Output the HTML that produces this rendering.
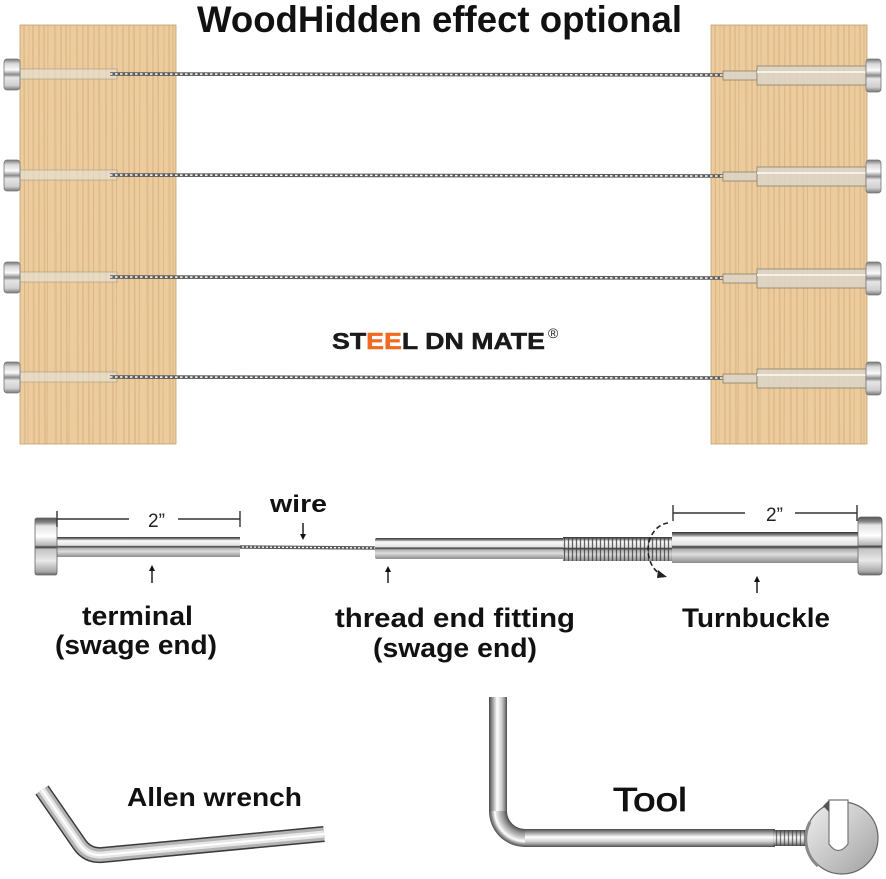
<!DOCTYPE html>
<html>
<head>
<meta charset="utf-8">
<style>
html,body{margin:0;padding:0;background:#fff;}
svg{display:block;}
text{font-family:"Liberation Sans",Arial,sans-serif;}
</style>
</head>
<body>
<svg xmlns="http://www.w3.org/2000/svg" width="886" height="879" viewBox="0 0 886 879">
<defs>
  <linearGradient id="headV" x1="0" y1="0" x2="0" y2="1">
    <stop offset="0" stop-color="#777"/>
    <stop offset="0.15" stop-color="#d8d8d8"/>
    <stop offset="0.35" stop-color="#fafafa"/>
    <stop offset="0.5" stop-color="#8a8a8a"/>
    <stop offset="0.6" stop-color="#e6e6e6"/>
    <stop offset="0.85" stop-color="#cfcfcf"/>
    <stop offset="1" stop-color="#777"/>
  </linearGradient>
  <linearGradient id="headG" x1="0" y1="0" x2="0" y2="1">
    <stop offset="0" stop-color="#555"/>
    <stop offset="0.08" stop-color="#888"/>
    <stop offset="0.14" stop-color="#e4e4e4"/>
    <stop offset="0.32" stop-color="#ffffff"/>
    <stop offset="0.48" stop-color="#b5b5b5"/>
    <stop offset="0.51" stop-color="#3a3a3a"/>
    <stop offset="0.55" stop-color="#c4c4c4"/>
    <stop offset="0.75" stop-color="#e9e9e9"/>
    <stop offset="0.94" stop-color="#a8a8a8"/>
    <stop offset="1" stop-color="#666"/>
  </linearGradient>
  <linearGradient id="tubeG" x1="0" y1="0" x2="0" y2="1">
    <stop offset="0" stop-color="#333"/>
    <stop offset="0.1" stop-color="#8a8a8a"/>
    <stop offset="0.18" stop-color="#fafafa"/>
    <stop offset="0.42" stop-color="#e2e2e2"/>
    <stop offset="0.48" stop-color="#3a3a3a"/>
    <stop offset="0.56" stop-color="#b0b0b0"/>
    <stop offset="0.72" stop-color="#dedede"/>
    <stop offset="1" stop-color="#8c8c8c"/>
  </linearGradient>
  <linearGradient id="legV" x1="0" y1="0" x2="1" y2="0">
    <stop offset="0" stop-color="#4a4a4a"/>
    <stop offset="0.2" stop-color="#9a9a9a"/>
    <stop offset="0.45" stop-color="#ffffff"/>
    <stop offset="0.7" stop-color="#d0d0d0"/>
    <stop offset="0.88" stop-color="#8a8a8a"/>
    <stop offset="1" stop-color="#4a4a4a"/>
  </linearGradient>
  <linearGradient id="legH" x1="0" y1="0" x2="0" y2="1">
    <stop offset="0" stop-color="#4a4a4a"/>
    <stop offset="0.2" stop-color="#9a9a9a"/>
    <stop offset="0.45" stop-color="#ffffff"/>
    <stop offset="0.7" stop-color="#d0d0d0"/>
    <stop offset="0.88" stop-color="#8a8a8a"/>
    <stop offset="1" stop-color="#4a4a4a"/>
  </linearGradient>
  <radialGradient id="bendG" gradientUnits="userSpaceOnUse" cx="525" cy="811" r="36">
    <stop offset="0.5" stop-color="#4a4a4a"/>
    <stop offset="0.6" stop-color="#8a8a8a"/>
    <stop offset="0.75" stop-color="#d0d0d0"/>
    <stop offset="0.84" stop-color="#ffffff"/>
    <stop offset="0.92" stop-color="#9a9a9a"/>
    <stop offset="1" stop-color="#4a4a4a"/>
  </radialGradient>
  <linearGradient id="diskG" x1="0" y1="0" x2="1" y2="1">
    <stop offset="0" stop-color="#f0f0f0"/>
    <stop offset="0.5" stop-color="#c9c9c9"/>
    <stop offset="1" stop-color="#a0a0a0"/>
  </linearGradient>
  <pattern id="thr" width="4" height="40" patternUnits="userSpaceOnUse" x="563" y="0">
    <line x1="1.5" y1="0" x2="1.5" y2="40" stroke="#3f3f3f" stroke-width="1.3"/>
  </pattern>
  <g id="grainLines" stroke="#a97a44" fill="none">
    <path d="M4 0 L5 419" stroke-width="1.2" stroke-opacity="0.25"/>
    <path d="M9 0 L8 419" stroke-width="0.8" stroke-opacity="0.2"/>
    <path d="M13 0 L14 419" stroke-width="2" stroke-opacity="0.15"/>
    <path d="M19 0 L19 419" stroke-width="1" stroke-opacity="0.3"/>
    <path d="M24 0 L25 419" stroke-width="1.6" stroke-opacity="0.18"/>
    <path d="M28 0 L27 419" stroke-width="0.8" stroke-opacity="0.28"/>
    <path d="M35 0 L36 419" stroke-width="2.4" stroke-opacity="0.14"/>
    <path d="M41 0 L41 419" stroke-width="1" stroke-opacity="0.3"/>
    <path d="M46 0 L47 419" stroke-width="1.4" stroke-opacity="0.2"/>
    <path d="M50 0 L49 419" stroke-width="0.8" stroke-opacity="0.25"/>
    <path d="M57 0 L58 419" stroke-width="2" stroke-opacity="0.16"/>
    <path d="M63 0 L63 419" stroke-width="1" stroke-opacity="0.3"/>
    <path d="M68 0 L69 419" stroke-width="1.6" stroke-opacity="0.2"/>
    <path d="M74 0 L73 419" stroke-width="0.9" stroke-opacity="0.28"/>
    <path d="M79 0 L80 419" stroke-width="2.2" stroke-opacity="0.15"/>
    <path d="M86 0 L86 419" stroke-width="1" stroke-opacity="0.3"/>
    <path d="M92 0 L93 419" stroke-width="1.5" stroke-opacity="0.2"/>
    <path d="M97 0 L96 419" stroke-width="0.8" stroke-opacity="0.26"/>
    <path d="M103 0 L104 419" stroke-width="2" stroke-opacity="0.15"/>
    <path d="M109 0 L109 419" stroke-width="1" stroke-opacity="0.3"/>
    <path d="M114 0 L115 419" stroke-width="1.6" stroke-opacity="0.2"/>
    <path d="M120 0 L119 419" stroke-width="0.9" stroke-opacity="0.26"/>
    <path d="M127 0 L128 419" stroke-width="2.2" stroke-opacity="0.16"/>
    <path d="M133 0 L133 419" stroke-width="1" stroke-opacity="0.3"/>
    <path d="M138 0 L139 419" stroke-width="1.5" stroke-opacity="0.2"/>
    <path d="M144 0 L143 419" stroke-width="0.8" stroke-opacity="0.26"/>
    <path d="M149 0 L150 419" stroke-width="2" stroke-opacity="0.16"/>
    <path d="M153 0 L153 419" stroke-width="1" stroke-opacity="0.28"/>
  </g>
</defs>

<rect width="886" height="879" fill="#fff"/>

<!-- Title -->
<text x="197" y="32" font-size="37" font-weight="bold" fill="#111" textLength="485" lengthAdjust="spacingAndGlyphs">WoodHidden effect optional</text>

<!-- Posts -->
<rect x="20" y="25" width="156" height="419" fill="#eccb9c"/>
<use href="#grainLines" transform="translate(20,25)"/>
<rect x="20" y="25" width="156" height="419" fill="none" stroke="#c29e6c" stroke-width="0.8"/>
<rect x="711" y="25" width="156" height="419" fill="#eccb9c"/>
<use href="#grainLines" transform="translate(711,25)"/>
<rect x="711" y="25" width="156" height="419" fill="none" stroke="#c29e6c" stroke-width="0.8"/>

<!-- Rows -->
<g id="rows">
  <g>
    <rect x="20" y="69" width="97" height="10" fill="#e8e4dc" fill-opacity="0.6" stroke="#8f8a80" stroke-opacity="0.6" stroke-width="0.8"/>
    <line x1="110" y1="74" x2="723" y2="75" stroke="#5c5c5c" stroke-width="3.6"/>
    <line x1="110" y1="74" x2="723" y2="75" stroke="#fff" stroke-width="1.5" stroke-dasharray="2.5 2.5"/>
    <rect x="4" y="59" width="16" height="31" rx="3" fill="url(#headV)" stroke="#777" stroke-width="0.8"/>
    <rect x="723" y="71" width="34" height="9" fill="#ddd5c8" fill-opacity="0.85" stroke="#8a8070" stroke-width="0.8"/>
    <rect x="757" y="66" width="109" height="19" fill="#ddd5c8" fill-opacity="0.85" stroke="#8a8070" stroke-width="0.8"/>
    <line x1="757" y1="72" x2="866" y2="72" stroke="#f4f0ea" stroke-width="2"/>
    <rect x="866" y="59" width="15" height="33" rx="3" fill="url(#headV)" stroke="#777" stroke-width="0.8"/>
  </g>
  <g transform="translate(0,101)">
    <rect x="20" y="69" width="97" height="10" fill="#e8e4dc" fill-opacity="0.6" stroke="#8f8a80" stroke-opacity="0.6" stroke-width="0.8"/>
    <line x1="110" y1="74" x2="723" y2="75" stroke="#5c5c5c" stroke-width="3.6"/>
    <line x1="110" y1="74" x2="723" y2="75" stroke="#fff" stroke-width="1.5" stroke-dasharray="2.5 2.5"/>
    <rect x="4" y="59" width="16" height="31" rx="3" fill="url(#headV)" stroke="#777" stroke-width="0.8"/>
    <rect x="723" y="71" width="34" height="9" fill="#ddd5c8" fill-opacity="0.85" stroke="#8a8070" stroke-width="0.8"/>
    <rect x="757" y="66" width="109" height="19" fill="#ddd5c8" fill-opacity="0.85" stroke="#8a8070" stroke-width="0.8"/>
    <line x1="757" y1="72" x2="866" y2="72" stroke="#f4f0ea" stroke-width="2"/>
    <rect x="866" y="59" width="15" height="33" rx="3" fill="url(#headV)" stroke="#777" stroke-width="0.8"/>
  </g>
  <g transform="translate(0,203)">
    <rect x="20" y="69" width="97" height="10" fill="#e8e4dc" fill-opacity="0.6" stroke="#8f8a80" stroke-opacity="0.6" stroke-width="0.8"/>
    <line x1="110" y1="74" x2="723" y2="75" stroke="#5c5c5c" stroke-width="3.6"/>
    <line x1="110" y1="74" x2="723" y2="75" stroke="#fff" stroke-width="1.5" stroke-dasharray="2.5 2.5"/>
    <rect x="4" y="59" width="16" height="31" rx="3" fill="url(#headV)" stroke="#777" stroke-width="0.8"/>
    <rect x="723" y="71" width="34" height="9" fill="#ddd5c8" fill-opacity="0.85" stroke="#8a8070" stroke-width="0.8"/>
    <rect x="757" y="66" width="109" height="19" fill="#ddd5c8" fill-opacity="0.85" stroke="#8a8070" stroke-width="0.8"/>
    <line x1="757" y1="72" x2="866" y2="72" stroke="#f4f0ea" stroke-width="2"/>
    <rect x="866" y="59" width="15" height="33" rx="3" fill="url(#headV)" stroke="#777" stroke-width="0.8"/>
  </g>
  <g transform="translate(0,303)">
    <rect x="20" y="69" width="97" height="10" fill="#e8e4dc" fill-opacity="0.6" stroke="#8f8a80" stroke-opacity="0.6" stroke-width="0.8"/>
    <line x1="110" y1="74" x2="723" y2="75" stroke="#5c5c5c" stroke-width="3.6"/>
    <line x1="110" y1="74" x2="723" y2="75" stroke="#fff" stroke-width="1.5" stroke-dasharray="2.5 2.5"/>
    <rect x="4" y="59" width="16" height="31" rx="3" fill="url(#headV)" stroke="#777" stroke-width="0.8"/>
    <rect x="723" y="71" width="34" height="9" fill="#ddd5c8" fill-opacity="0.85" stroke="#8a8070" stroke-width="0.8"/>
    <rect x="757" y="66" width="109" height="19" fill="#ddd5c8" fill-opacity="0.85" stroke="#8a8070" stroke-width="0.8"/>
    <line x1="757" y1="72" x2="866" y2="72" stroke="#f4f0ea" stroke-width="2"/>
    <rect x="866" y="59" width="15" height="33" rx="3" fill="url(#headV)" stroke="#777" stroke-width="0.8"/>
  </g>
</g>

<!-- Logo -->
<text x="332" y="349" font-size="23" font-weight="bold" fill="#1a1a1a" stroke="#1a1a1a" stroke-width="0.5" textLength="213" lengthAdjust="spacingAndGlyphs">ST<tspan fill="#f26a21" stroke="#f26a21">EE</tspan>L DN MATE</text>
<text x="548" y="338" font-size="14" fill="#1a1a1a">®</text>

<!-- Middle diagram -->
<line x1="238" y1="547" x2="377" y2="548" stroke="#5c5c5c" stroke-width="3.5"/>
<line x1="238" y1="547" x2="377" y2="548" stroke="#fff" stroke-width="1.3" stroke-dasharray="2 2"/>
<rect x="57" y="537" width="183" height="20" fill="url(#tubeG)"/>
<rect x="35" y="518" width="22" height="57" rx="2" fill="url(#headG)" stroke="#666" stroke-width="0.8"/>
<rect x="375" y="538" width="190" height="21" rx="2" fill="url(#tubeG)"/>
<rect x="563" y="537" width="109" height="24" fill="url(#tubeG)"/>
<rect x="563" y="537" width="109" height="24" fill="url(#thr)" opacity="0.8"/>
<rect x="672" y="532" width="187" height="31" fill="url(#tubeG)"/>
<rect x="858" y="517" width="24" height="58" rx="3" fill="url(#headG)" stroke="#666" stroke-width="0.8"/>
<path d="M 668 523 A 22 27 0 0 0 662 575" fill="none" stroke="#222" stroke-width="1.6" stroke-dasharray="5 3"/>
<path d="M 658 570 L 667 577 L 657 578 Z" fill="#222"/>

<g stroke="#333" stroke-width="1.4">
  <line x1="57" y1="519" x2="129" y2="519"/>
  <line x1="178" y1="519" x2="240" y2="519"/>
  <line x1="57" y1="511" x2="57" y2="527"/>
  <line x1="240" y1="511" x2="240" y2="527"/>
  <line x1="673" y1="513" x2="745" y2="513"/>
  <line x1="795" y1="513" x2="857" y2="513"/>
  <line x1="673" y1="505" x2="673" y2="521"/>
  <line x1="857" y1="505" x2="857" y2="521"/>
</g>
<text x="148" y="527" font-size="19" fill="#222">2”</text>
<text x="766" y="521" font-size="19" fill="#222">2”</text>

<g stroke="#111" stroke-width="1.4" fill="#111">
  <line x1="152" y1="583" x2="152" y2="570"/>
  <path d="M 149 571 L 152 565 L 155 571 Z" stroke="none"/>
  <line x1="388" y1="583" x2="388" y2="571"/>
  <path d="M 385 572 L 388 566 L 391 572 Z" stroke="none"/>
  <line x1="757" y1="593" x2="757" y2="581"/>
  <path d="M 754 582 L 757 576 L 760 582 Z" stroke="none"/>
  <line x1="303" y1="523" x2="303" y2="535"/>
  <path d="M 300 534 L 303 540 L 306 534 Z" stroke="none"/>
</g>

<g fill="#111" font-weight="bold">
  <text x="270" y="512" font-size="24" textLength="57" lengthAdjust="spacingAndGlyphs">wire</text>
  <text x="82" y="625" font-size="27" textLength="111" lengthAdjust="spacingAndGlyphs">terminal</text>
  <text x="55" y="654" font-size="27" textLength="162" lengthAdjust="spacingAndGlyphs">(swage end)</text>
  <text x="335" y="627" font-size="27" textLength="240" lengthAdjust="spacingAndGlyphs">thread end fitting</text>
  <text x="373" y="657" font-size="27" textLength="164" lengthAdjust="spacingAndGlyphs">(swage end)</text>
  <text x="682" y="627" font-size="27" textLength="148" lengthAdjust="spacingAndGlyphs">Turnbuckle</text>
  <text x="127" y="806" font-size="26" textLength="175" lengthAdjust="spacingAndGlyphs">Allen wrench</text>
</g>
<text x="613" y="811" font-size="33" fill="#111" stroke="#111" stroke-width="0.8" textLength="74" lengthAdjust="spacingAndGlyphs">Tool</text>

<!-- Allen wrench -->
<g fill="none" stroke-linejoin="round">
  <path d="M 42 790 L 80 845 Q 88 856 102 855 L 324 834" stroke="#3a3a3a" stroke-width="16"/>
  <path d="M 42 790 L 80 845 Q 88 856 102 855 L 324 834" stroke="#b3b3b3" stroke-width="13"/>
  <path d="M 42 790 L 80 845 Q 88 856 102 855 L 324 834" stroke="#e6e6e6" stroke-width="7"/>
  <path d="M 42 790 L 80 845 Q 88 856 102 855 L 324 834" stroke="#fff" stroke-width="2"/>
</g>

<!-- Tool -->
<rect x="489" y="697" width="18" height="115" fill="url(#legV)"/>
<rect x="524" y="829" width="251" height="18" fill="url(#legH)"/>
<path d="M 489 811 A 36 36 0 0 0 525 847 L 525 829 A 18 18 0 0 1 507 811 Z" fill="url(#bendG)"/>
<rect x="773" y="830" width="35" height="16" fill="url(#legH)"/>
<rect x="773" y="830" width="35" height="16" fill="url(#thr)" opacity="0.7"/>
<circle cx="842" cy="838" r="36" fill="url(#diskG)" stroke="#666" stroke-width="1.2"/>
<path d="M 810 822 A 36 36 0 0 0 818 866" fill="none" stroke="#888" stroke-width="3"/>
<path d="M 829 800 L 829 844 Q 838 857 848 844 L 848 800 Z" fill="#fff" stroke="#777" stroke-width="1.2"/>
<path d="M 823 806 L 829 800 L 829 812 Z" fill="#555"/>
</svg>
</body>
</html>
